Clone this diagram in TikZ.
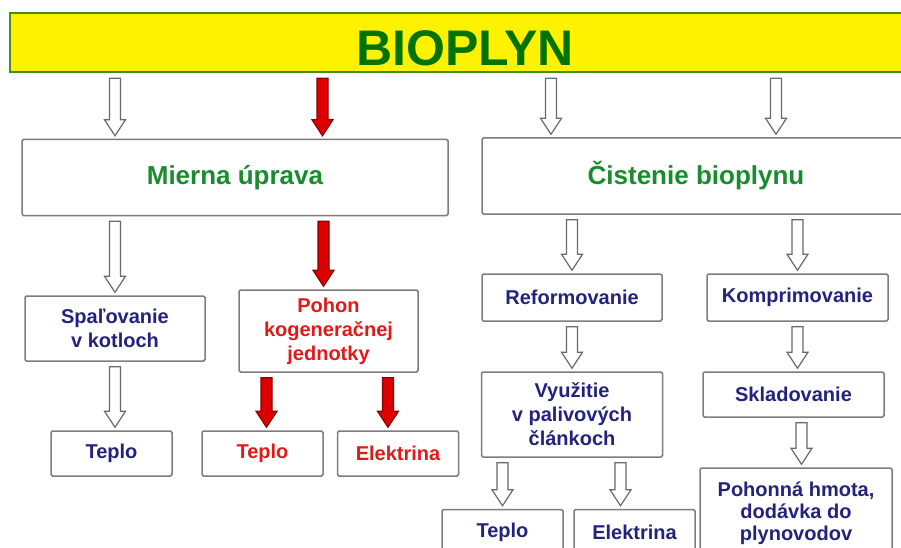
\documentclass[tikz,border=0pt]{standalone}
\usepackage{fontspec}
\setmainfont{Liberation Sans}
\usetikzlibrary{calc}

\definecolor{titlegreen}{RGB}{0,115,0}
\definecolor{headgreen}{RGB}{25,140,45}
\definecolor{navytext}{RGB}{35,35,125}
\definecolor{redtext}{RGB}{225,25,25}
\definecolor{boxgray}{RGB}{125,125,125}
\definecolor{arrowgray}{RGB}{105,105,105}
\definecolor{arrowred}{RGB}{220,0,0}
\definecolor{arrowdark}{RGB}{140,0,0}
\definecolor{bargreen}{RGB}{70,140,30}

\tikzstyle{titlebar} = [rectangle, draw=bargreen, line width=2.5pt, fill=yellow, minimum width=910pt, minimum height=59pt, text height=46pt, text depth=0pt, text=titlegreen, font=\fontsize{50}{60}\selectfont\bfseries]
\tikzstyle{mainbox} = [rectangle, rounded corners=1.5pt, draw=boxgray, line width=1.5pt, fill=white, minimum height=76pt, text=headgreen, font=\fontsize{26}{30}\selectfont\bfseries]
\tikzstyle{bluebox} = [rectangle, rounded corners=1.5pt, draw=boxgray, line width=1.5pt, fill=white, align=center, inner sep=0pt, text=navytext, font=\fontsize{20}{24}\selectfont\bfseries]
\tikzstyle{redbox} = [bluebox, text=redtext]
\tikzstyle{smallsize} = [minimum width=121pt, minimum height=45pt]
\tikzstyle{blockarrow} = [line width=1.2pt, line join=miter, to path={let \p1=(\tikztostart), \p2=(\tikztotarget) in
  (\x1-5.5pt,\y1-5pt) -- (\x1+5.5pt,\y1-5pt) -- (\x1+5.5pt,\y2+19pt) -- (\x1+10.5pt,\y2+19pt)
  -- (\x1,\y2+3pt) -- (\x1-10.5pt,\y2+19pt) -- (\x1-5.5pt,\y2+19pt) -- cycle}]
\tikzstyle{hollow} = [blockarrow, draw=arrowgray, fill=white]
\tikzstyle{redarrow} = [blockarrow, draw=arrowdark, fill=arrowred]

\begin{document}
\begin{tikzpicture}[x=1pt, y=-1pt, node distance=120pt]
\useasboundingbox (0,0) rectangle (901,548);

\node (title) [titlebar] at (465,42.5) {BIOPLYN};
\node (mierna) [mainbox, minimum width=426pt] at (235,177.5) {Mierna úprava};
\node (cistenie) [mainbox, minimum width=428pt] at (696,176) {Čistenie bioplynu};

% left branch
\node (spal) [bluebox, minimum width=180pt, minimum height=65pt] at (115,328.5) {Spaľovanie\\v kotloch};
\node (pohon) [redbox, minimum width=179pt, minimum height=82pt] at (328.5,331) {Pohon\\kogeneračnej\\jednotky};
\node (teplo1) [bluebox, smallsize, below of=spal, xshift=-3.5pt, yshift=-5pt] {Teplo};
\node (teplo2) [redbox, smallsize, below of=pohon, xshift=-66pt, yshift=-2.5pt] {Teplo};
\node (elek1) [redbox, smallsize, below of=pohon, xshift=69.5pt, yshift=-2.5pt] {Elektrina};

% right branch
\node (reform) [bluebox, minimum width=180pt, minimum height=47pt] at (572,297.5) {Reformovanie};
\node (kompr) [bluebox, minimum width=181pt, minimum height=47pt] at (797.5,297.5) {Komprimovanie};
\node (vyuz) [bluebox, minimum width=181pt, minimum height=85pt, below of=reform, yshift=3pt] {Využitie\\v palivových\\článkoch};
\node (sklad) [bluebox, minimum width=181pt, minimum height=45pt, below of=kompr, xshift=-4pt, yshift=23pt] {Skladovanie};
\node (pohonna) [bluebox, font=\fontsize{20}{22}\selectfont\bfseries, minimum width=192pt, minimum height=90pt, below of=sklad, xshift=2.5pt, yshift=1.5pt] {Pohonná hmota,\\dodávka do\\plynovodov};
\node (teplo3) [bluebox, smallsize, below of=vyuz, xshift=-69.5pt, yshift=2.5pt] {Teplo};
\node (elek2) [bluebox, smallsize, below of=vyuz, xshift=62.5pt, yshift=2.5pt] {Elektrina};

\draw [hollow] (title.south -| spal.north) to (mierna.north -| spal.north);
\draw [redarrow] ($(title.south -| pohon.north)-(6,0)$) to (mierna.north -| pohon.north);
\draw [hollow] ($(title.south -| reform.north)-(21,0)$) to (cistenie.north -| reform.north);
\draw [hollow] ($(title.south -| kompr.north)-(21.5,0)$) to (cistenie.north -| kompr.north);

\draw [hollow] (mierna.south -| spal.north) to (spal.north);
\draw [redarrow] ($(mierna.south -| pohon.north)-(5,0)$) to (pohon.north);
\draw [hollow] (cistenie.south -| reform.north) to (reform.north);
\draw [hollow] (cistenie.south -| kompr.north) to (kompr.north);

\draw [hollow] (spal.south) to (teplo1.north);
\draw [redarrow] ($(pohon.south -| teplo2.north)+(4,0)$) to (teplo2.north);
\draw [redarrow] ($(pohon.south -| elek1.north)-(10,0)$) to (elek1.north);
\draw [hollow] (reform.south) to (vyuz.north);
\draw [hollow] (kompr.south) to (sklad.north);
\draw [hollow] ($(sklad.south)+(8,0)$) to (pohonna.north);
\draw [hollow] (vyuz.south -| teplo3.north) to (teplo3.north);
\draw [hollow] ($(vyuz.south -| elek2.north)-(14,0)$) to (elek2.north);

\end{tikzpicture}
\end{document}
